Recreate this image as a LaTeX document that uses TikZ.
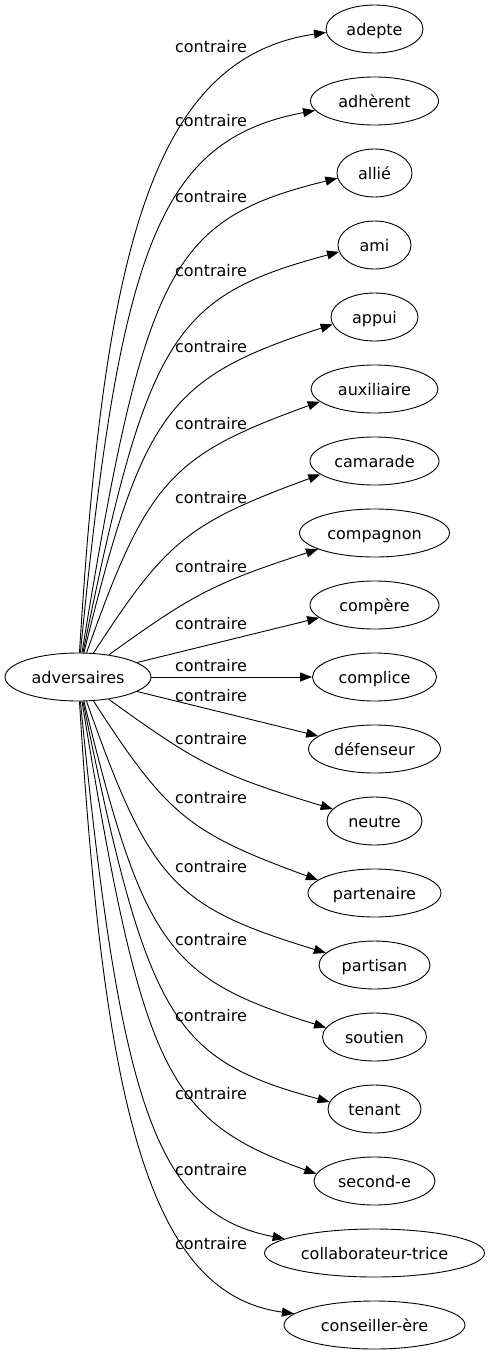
\documentclass[tikz,border=0pt]{standalone}
\usepackage{fontspec}
\setmainfont{DejaVu Sans}
\usetikzlibrary{arrows.meta,shapes.geometric}
\tikzset{
  node-term/.style={draw,ellipse,line width=0.9pt,inner sep=0pt,
    minimum height=48pt,text height=13.5pt,text depth=1.5pt,
    font=\fontsize{16}{19}\selectfont},
  node-rel/.style={inner sep=0pt,text height=13.5pt,text depth=1.5pt,
    font=\fontsize{16}{19}\selectfont},
  arrow/.style={-{Triangle[length=12pt,width=9pt]},line width=0.9pt},
}

\begin{document}
\begin{tikzpicture}[x=1pt,y=-1pt]
  \useasboundingbox (0,0) rectangle (490,1355);
  % source
  \node[node-term,minimum width=146pt] (adv) at (78,677) {adversaires};
  % targets, one column
  \node[node-term,minimum width=97pt]  (adepte)     at (374.5,29)   {adepte};
  \node[node-term,minimum width=128pt] (adherent)   at (374.5,101)  {adhèrent};
  \node[node-term,minimum width=75pt]  (allie)      at (374.5,173)  {allié};
  \node[node-term,minimum width=73pt]  (ami)        at (374.5,245)  {ami};
  \node[node-term,minimum width=87pt]  (appui)      at (374.5,317)  {appui};
  \node[node-term,minimum width=127pt] (auxiliaire) at (374.5,389)  {auxiliaire};
  \node[node-term,minimum width=129pt] (camarade)   at (374.5,461)  {camarade};
  \node[node-term,minimum width=150pt] (compagnon)  at (374.5,533)  {compagnon};
  \node[node-term,minimum width=129pt] (compere)    at (374.5,605)  {compère};
  \node[node-term,minimum width=124pt] (complice)   at (374.5,677)  {complice};
  \node[node-term,minimum width=132pt] (defenseur)  at (374.5,749)  {défenseur};
  \node[node-term,minimum width=95pt]  (neutre)     at (374.5,821)  {neutre};
  \node[node-term,minimum width=133pt] (partenaire) at (374.5,893)  {partenaire};
  \node[node-term,minimum width=111pt] (partisan)   at (374.5,965)  {partisan};
  \node[node-term,minimum width=104pt] (soutien)    at (374.5,1037) {soutien};
  \node[node-term,minimum width=93pt]  (tenant)     at (374.5,1109) {tenant};
  \node[node-term,minimum width=121pt] (second)     at (374.5,1181) {second-e};
  \node[node-term,minimum width=220pt] (collab)     at (374.5,1253) {collaborateur-trice};
  \node[node-term,minimum width=181pt] (conseiller) at (374.5,1325) {conseiller-ère};
  % edges
  \draw[arrow] (adv) .. controls (104,250) and (152,58) .. (adepte.184)
    node[node-rel] (r1) at (211,46.7) {contraire};
  \draw[arrow] (adv) .. controls (120,250) and (158,140) .. (adherent.189)
    node[node-rel] (r2) at (211,120.7) {contraire};
  \draw[arrow] (adv) .. controls (145,266.9) and (170.4,219.4) .. (allie.188)
    node[node-rel] (r3) at (211,196) {contraire};
  \draw[arrow] (adv) .. controls (147.4,336.4) and (172.8,296.3) .. (ami.191)
    node[node-rel] (r4) at (211,270) {contraire};
  \draw[arrow] (adv) .. controls (143.1,410.9) and (167.7,378.1) .. (appui.190)
    node[node-rel] (r5) at (211,346) {contraire};
  \draw[arrow] (adv) .. controls (147.5,480.8) and (170.3,455.5) .. (auxiliaire.193)
    node[node-rel] (r6) at (211,423) {contraire};
  \draw[arrow] (adv) .. controls (166.2,540.8) and (187.7,523.2) .. (camarade.194)
    node[node-rel] (r7) at (211,497) {contraire};
  \draw[arrow] (adv) .. controls (193.2,594.1) and (212.8,583.6) .. (compagnon.196)
    node[node-rel] (r8) at (211,566) {contraire};
  \draw[arrow] (adv) -- (compere.193)
    node[node-rel] (r9) at (211,623) {contraire};
  \draw[arrow] (adv) -- (complice)
    node[node-rel] (r10) at (211,665) {contraire};
  \draw[arrow] (adv) -- (defenseur.167)
    node[node-rel] (r11) at (211,695) {contraire};
  \draw[arrow] (adv) .. controls (197.5,763.5) and (218.4,774.5) .. (neutre.164)
    node[node-rel] (r12) at (211,738) {contraire};
  \draw[arrow] (adv) .. controls (167.1,814.9) and (188.4,832.7) .. (partenaire.167)
    node[node-rel] (r13) at (211,797) {contraire};
  \draw[arrow] (adv) .. controls (150,881.1) and (173.4,906.4) .. (partisan.166)
    node[node-rel] (r14) at (211,866) {contraire};
  \draw[arrow] (adv) .. controls (143.8,946) and (167.8,978.5) .. (soutien.169)
    node[node-rel] (r15) at (211,939) {contraire};
  \draw[arrow] (adv) .. controls (147.6,1019.4) and (172.2,1059.6) .. (tenant.171)
    node[node-rel] (r16) at (211,1015) {contraire};
  \draw[arrow] (adv) .. controls (142.6,1072.4) and (165.9,1119.7) .. (second.173)
    node[node-rel] (r17) at (211,1093) {contraire};
  \draw[arrow] (adv) .. controls (120,1104) and (155,1214) .. (collab.171)
    node[node-rel] (r18) at (211,1169) {contraire};
  \draw[arrow] (adv) .. controls (104,1104) and (148,1294) .. (conseiller.172)
    node[node-rel] (r19) at (211,1243) {contraire};
\end{tikzpicture}
\end{document}
